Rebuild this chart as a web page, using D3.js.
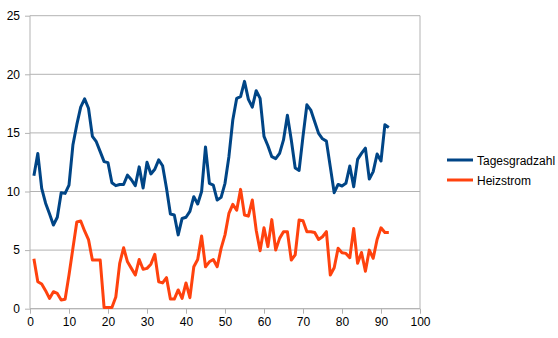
<!DOCTYPE html>
<html><head><meta charset="utf-8">
<script src="https://cdn.jsdelivr.net/npm/d3@7"></script>
<style>body{margin:0;background:#fff}svg{display:block;font-family:"Liberation Sans",Arial,sans-serif}</style>
</head><body><svg id="c" width="558" height="338"></svg>
<script>
const seriesNames = ["Tagesgradzahl", "Heizstrom"];
const seriesColors = ["#004586", "#ff420e"];
const tagesgradzahl = [11.35,13.25,10.27,9.0,8.1,7.14,7.8,9.9,9.84,10.55,13.96,15.7,17.2,17.9,17.1,14.7,14.25,13.4,12.55,12.46,
10.75,10.5,10.6,10.6,11.4,11.0,10.5,12.1,10.3,12.5,11.5,11.9,12.7,12.2,10.27,8.08,8.0,6.3,7.7,7.8,
8.3,9.56,8.93,10.0,13.8,10.7,10.55,9.27,9.5,10.7,12.97,16.1,17.95,18.1,19.4,17.86,17.2,18.6,17.95,14.7,
13.9,12.97,12.8,13.25,14.4,16.5,14.4,12.0,11.8,14.7,17.4,16.95,15.96,14.96,14.5,14.3,12.1,9.9,10.6,10.47,
10.7,12.17,10.4,12.74,13.25,13.7,11.06,11.7,13.2,12.6,15.7,15.47];
const heizstrom = [4.27,2.3,2.1,1.54,0.88,1.45,1.3,0.74,0.8,2.87,5.15,7.4,7.48,6.63,5.9,4.15,4.15,4.15,0.1,0.1,
0.1,1.0,3.87,5.2,4.0,3.44,2.87,4.2,3.36,3.44,3.8,4.64,2.3,2.2,2.65,0.82,0.82,1.6,0.88,2.2,
0.94,3.58,4.2,6.2,3.58,4.0,4.2,3.58,5.15,6.3,8.13,8.9,8.4,10.18,8.0,7.9,9.27,6.7,4.95,6.9,
5.3,7.6,5.0,6.0,6.57,6.57,4.15,4.6,7.57,7.5,6.57,6.57,6.5,5.9,6.14,6.57,2.87,3.5,5.15,4.78,
4.72,4.35,6.85,3.87,4.8,3.2,5.0,4.3,5.9,6.9,6.5,6.5];
const xTicks = [0,10,20,30,40,50,60,70,80,90,100];
const yTicks = [0,5,10,15,20,25];

const svg = d3.select("#c");
const L = 30, R = 420, T = 15.7, B = 308.7;
const x = d3.scaleLinear().domain([0,100]).range([L,R]);
const y = d3.scaleLinear().domain([0,25]).range([B,T]);
const grid = "#b3b3b3";

// gridlines
svg.append("g").selectAll("line").data(yTicks).join("line")
  .attr("x1",L).attr("x2",R).attr("y1",d=>y(d)).attr("y2",d=>y(d))
  .attr("stroke",grid).attr("stroke-width",1);
// plot border right
svg.append("line").attr("x1",R).attr("x2",R).attr("y1",T).attr("y2",B).attr("stroke",grid);

const xAxis = svg.append("g").attr("transform",`translate(0,${B})`)
  .call(d3.axisBottom(x).tickValues(xTicks).tickSize(5).tickPadding(4).tickFormat(d3.format("d")));
const yAxis = svg.append("g").attr("transform",`translate(${L},0)`)
  .call(d3.axisLeft(y).tickValues(yTicks).tickSize(5).tickPadding(5).tickFormat(d3.format("d")));
[xAxis,yAxis].forEach(a=>{
  a.selectAll("path,line").attr("stroke",grid).attr("stroke-width",1);
  a.select(".domain").attr("d", a===xAxis ? `M${L},0H${R}` : `M0,${B}V${T}`);
  a.selectAll("text").attr("font-size",12).attr("fill","#000").attr("font-family",'"Liberation Sans",Arial,sans-serif');
});

const line = d3.line().x((d,i)=>x(i+1)).y(d=>y(d));
[tagesgradzahl, heizstrom].forEach((s,k)=>{
  svg.append("path").datum(s).attr("d",line).attr("fill","none")
    .attr("stroke",seriesColors[k]).attr("stroke-width",3).attr("stroke-linejoin","round");
});

// legend
const lg = svg.append("g").attr("transform","translate(447,160)");
seriesNames.forEach((n,k)=>{
  const g = lg.append("g").attr("transform",`translate(0,${k*20})`);
  g.append("line").attr("x1",0).attr("x2",26).attr("y1",0).attr("y2",0)
    .attr("stroke",seriesColors[k]).attr("stroke-width",3);
  g.append("text").attr("x",30).attr("y",4.5).attr("font-size",12).text(n);
});
</script></body></html>
